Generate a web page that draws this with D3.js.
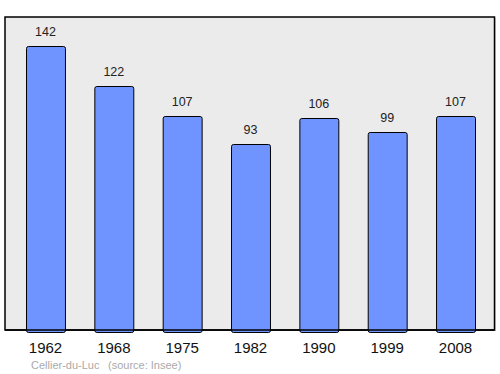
<!DOCTYPE html>
<html>
<head>
<meta charset="utf-8">
<script src="https://cdnjs.cloudflare.com/ajax/libs/d3/7.9.0/d3.min.js"></script>
<style>
  body { margin: 0; background: #fff; }
  text { font-family: "Liberation Sans", Arial, sans-serif; }
</style>
</head>
<body>
<div id="chart"></div>
<script>
// données population
const annees = ["1962", "1968", "1975", "1982", "1990", "1999", "2008"];
const population = [142, 122, 107, 93, 106, 99, 107];
const commune = "Cellier-du-Luc";
const source = "(source: Insee)";

const W = 500, H = 374;
const cadre = { x0: 5, y0: 17, x1: 494.5, y1: 330 };

const svg = d3.select("#chart").append("svg")
  .attr("width", W).attr("height", H);

// fond + ombre légère
svg.append("rect")
  .attr("x", cadre.x0 + 1).attr("y", cadre.y0 + 1)
  .attr("width", cadre.x1 - cadre.x0).attr("height", cadre.y1 - cadre.y0)
  .attr("fill", "#aaa");
svg.append("rect")
  .attr("x", cadre.x0).attr("y", cadre.y0)
  .attr("width", cadre.x1 - cadre.x0).attr("height", cadre.y1 - cadre.y0)
  .attr("fill", "#ebebeb").attr("stroke", "#000").attr("stroke-width", 1.5);

const x = d3.scaleBand().domain(annees).range([26, 475])
  .paddingInner(0.43).paddingOuter(0);
const y = d3.scaleLinear().domain([0, 156.5]).range([cadre.y1, cadre.y0]);

const donnees = annees.map((a, i) => ({ annee: a, val: population[i] }));

svg.selectAll("rect.barre").data(donnees).enter().append("rect")
  .attr("class", "barre")
  .attr("x", d => x(d.annee) + 0.5)
  .attr("y", d => y(d.val) + 0.5)
  .attr("width", x.bandwidth())
  .attr("height", d => y(0) - y(d.val) + 2)
  .attr("rx", 2)
  .attr("fill", "#7094ff")
  .attr("stroke", "#000").attr("stroke-width", 1);

// re-dessine le bas du cadre par-dessus les barres
svg.append("line")
  .attr("x1", cadre.x0).attr("x2", cadre.x1)
  .attr("y1", cadre.y1).attr("y2", cadre.y1)
  .attr("stroke", "#000").attr("stroke-width", 1.5);

svg.selectAll("text.val").data(donnees).enter().append("text")
  .attr("class", "val")
  .attr("x", d => x(d.annee) + x.bandwidth() / 2)
  .attr("y", d => y(d.val) - 10)
  .attr("text-anchor", "middle")
  .attr("font-size", 12.5)
  .attr("fill", "#222")
  .text(d => d.val);

const axe = d3.axisBottom(x).tickSize(0).tickPadding(0);
const gAxe = svg.append("g").attr("transform", `translate(0,${cadre.y1})`).call(axe);
gAxe.select(".domain").remove();
gAxe.selectAll("text")
  .attr("dy", null)
  .attr("y", 23)
  .attr("font-size", 15)
  .attr("fill", "#111")
  .style("font-family", "Liberation Sans, Arial, sans-serif");

svg.append("text").attr("x", 31).attr("y", 369)
  .attr("font-size", 11).attr("fill", "#aaa").text(commune);
svg.append("text").attr("x", 108).attr("y", 369)
  .attr("font-size", 11).attr("fill", "#aaa").text(source);
</script>
</body>
</html>
